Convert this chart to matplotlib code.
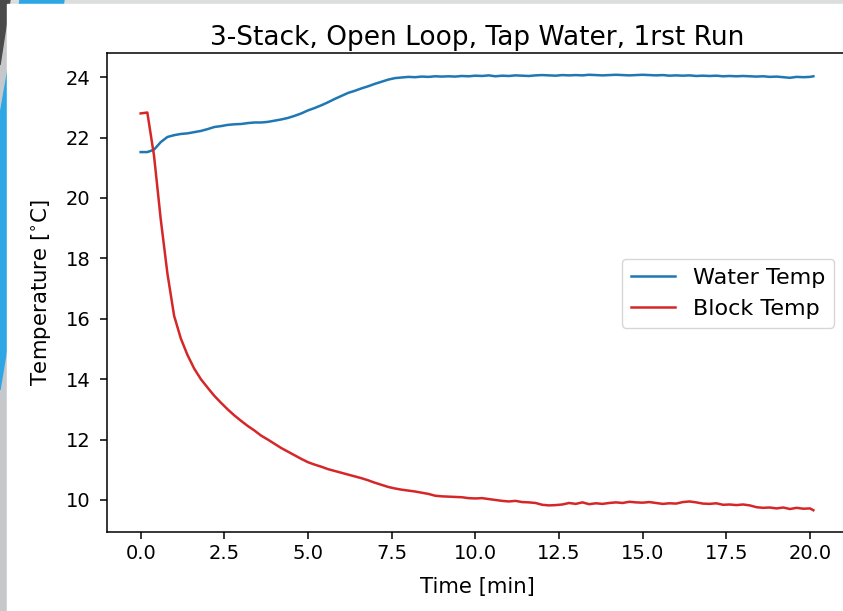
import matplotlib
matplotlib.use("Agg")
import matplotlib.pyplot as plt
from matplotlib.patches import Polygon, Rectangle

# Sample times [min]
time_min = [
    0.0, 0.2, 0.4, 0.6, 0.8, 1.0, 1.2, 1.4, 1.6, 1.8,
    2.0, 2.2, 2.4, 2.6, 2.8, 3.0, 3.2, 3.4, 3.6, 3.8,
    4.0, 4.2, 4.4, 4.6, 4.8, 5.0, 5.2, 5.4, 5.6, 5.8,
    6.0, 6.2, 6.4, 6.6, 6.8, 7.0, 7.2, 7.4, 7.6, 7.8,
    8.0, 8.2, 8.4, 8.6, 8.8, 9.0, 9.2, 9.4, 9.6, 9.8,
    10.0, 10.2, 10.4, 10.6, 10.8, 11.0, 11.2, 11.4, 11.6, 11.8,
    12.0, 12.2, 12.4, 12.6, 12.8, 13.0, 13.2, 13.4, 13.6, 13.8,
    14.0, 14.2, 14.4, 14.6, 14.8, 15.0, 15.2, 15.4, 15.6, 15.8,
    16.0, 16.2, 16.4, 16.6, 16.8, 17.0, 17.2, 17.4, 17.6, 17.8,
    18.0, 18.2, 18.4, 18.6, 18.8, 19.0, 19.2, 19.4, 19.6, 19.8,
    20.0, 20.1,
]

# Water temperature [deg C]
water_temp = [
    21.52, 21.52, 21.60, 21.85, 22.02, 22.08, 22.12, 22.14, 22.18, 22.22,
    22.28, 22.35, 22.38, 22.42, 22.44, 22.45, 22.48, 22.50, 22.50, 22.52,
    22.56, 22.60, 22.65, 22.72, 22.80, 22.90, 22.98, 23.07, 23.17, 23.28,
    23.38, 23.48, 23.55, 23.63, 23.70, 23.78, 23.85, 23.92, 23.97, 23.99,
    24.01, 24.00, 24.02, 24.01, 24.03, 24.02, 24.03, 24.02, 24.04, 24.03,
    24.05, 24.04, 24.06, 24.03, 24.05, 24.04, 24.06, 24.05, 24.04, 24.06,
    24.07, 24.06, 24.05, 24.07, 24.06, 24.07, 24.06, 24.08, 24.07, 24.06,
    24.07, 24.08, 24.07, 24.06, 24.07, 24.08, 24.07, 24.06, 24.07, 24.05,
    24.06, 24.05, 24.06, 24.04, 24.05, 24.04, 24.05, 24.03, 24.04, 24.03,
    24.04, 24.03, 24.02, 24.03, 24.01, 24.02, 24.00, 23.98, 24.01, 24.00,
    24.01, 24.03,
]

# Block temperature [deg C]
block_temp = [
    22.80, 22.83, 21.40, 19.30, 17.50, 16.10, 15.35, 14.80, 14.35, 14.00,
    13.72, 13.45, 13.22, 13.00, 12.80, 12.62, 12.45, 12.30, 12.13, 12.00,
    11.86, 11.72, 11.60, 11.48, 11.36, 11.25, 11.17, 11.10, 11.02, 10.96,
    10.90, 10.84, 10.78, 10.72, 10.65, 10.57, 10.50, 10.43, 10.38, 10.34,
    10.31, 10.28, 10.24, 10.20, 10.14, 10.12, 10.11, 10.10, 10.09, 10.06,
    10.05, 10.06, 10.03, 10.00, 9.97, 9.95, 9.97, 9.93, 9.92, 9.90,
    9.84, 9.82, 9.83, 9.85, 9.90, 9.87, 9.92, 9.86, 9.89, 9.87,
    9.90, 9.92, 9.90, 9.94, 9.92, 9.91, 9.93, 9.90, 9.87, 9.89,
    9.88, 9.93, 9.95, 9.92, 9.88, 9.87, 9.89, 9.84, 9.85, 9.83,
    9.85, 9.82, 9.76, 9.74, 9.75, 9.72, 9.75, 9.70, 9.74, 9.71,
    9.72, 9.66,
]

W, H = 843, 611
fig = plt.figure(figsize=(W / 100, H / 100), dpi=100, facecolor="white")


def px(x, y):
    return (x / W, 1 - y / H)


# Slide frame around the figure
fig.add_artist(Rectangle(px(0, 4), 1, 4 / H, transform=fig.transFigure,
                         color="#dcdddd", zorder=-10))
fig.add_artist(Rectangle(px(0, H), 7 / W, 1, transform=fig.transFigure,
                         color="#c6c9cb", zorder=-10))
fig.add_artist(Polygon([px(20, 0), px(64, 0), px(0, 390), px(0, 115)],
                       closed=True, transform=fig.transFigure,
                       color="#2ea6e6", zorder=-9))
fig.add_artist(Polygon([px(0, 0), px(10, 0), px(0, 65)],
                       closed=True, transform=fig.transFigure,
                       color="#4a4a4a", zorder=-9))
fig.add_artist(Rectangle(px(7, H), (W - 7) / W, (H - 4) / H,
                         transform=fig.transFigure, color="white", zorder=-8))

ax = fig.add_axes([107 / W, 1 - 532 / H, (847 - 107) / W, (532 - 53) / H])
ax.patch.set_alpha(0)
for s in ax.spines.values():
    s.set_linewidth(1.1)
ax.spines["right"].set_visible(False)

ax.plot(time_min, water_temp, color="tab:blue", lw=1.8, label="Water Temp")
ax.plot(time_min, block_temp, color="tab:red", lw=1.8, label="Block Temp")

ax.set_xticks([0.0, 2.5, 5.0, 7.5, 10.0, 12.5, 15.0, 17.5, 20.0])
ax.set_yticks([10, 12, 14, 16, 18, 20, 22, 24])
ax.tick_params(labelsize=14, length=5, width=1.1)
ax.tick_params(axis="y", pad=7)
ax.set_xlabel("Time [min]", fontsize=15.3, labelpad=10)
ax.set_ylabel("Temperature [$^{\\circ}$C]", fontsize=15.3, labelpad=9)
ax.set_title("3-Stack, Open Loop, Tap Water, 1rst Run", fontsize=19)
ax.legend(loc="center right", fontsize=16,
          bbox_to_anchor=(834 / W, 1 - 293.5 / H),
          bbox_transform=fig.transFigure, borderaxespad=0)

fig.savefig("out.png", dpi=100, facecolor=fig.get_facecolor())
